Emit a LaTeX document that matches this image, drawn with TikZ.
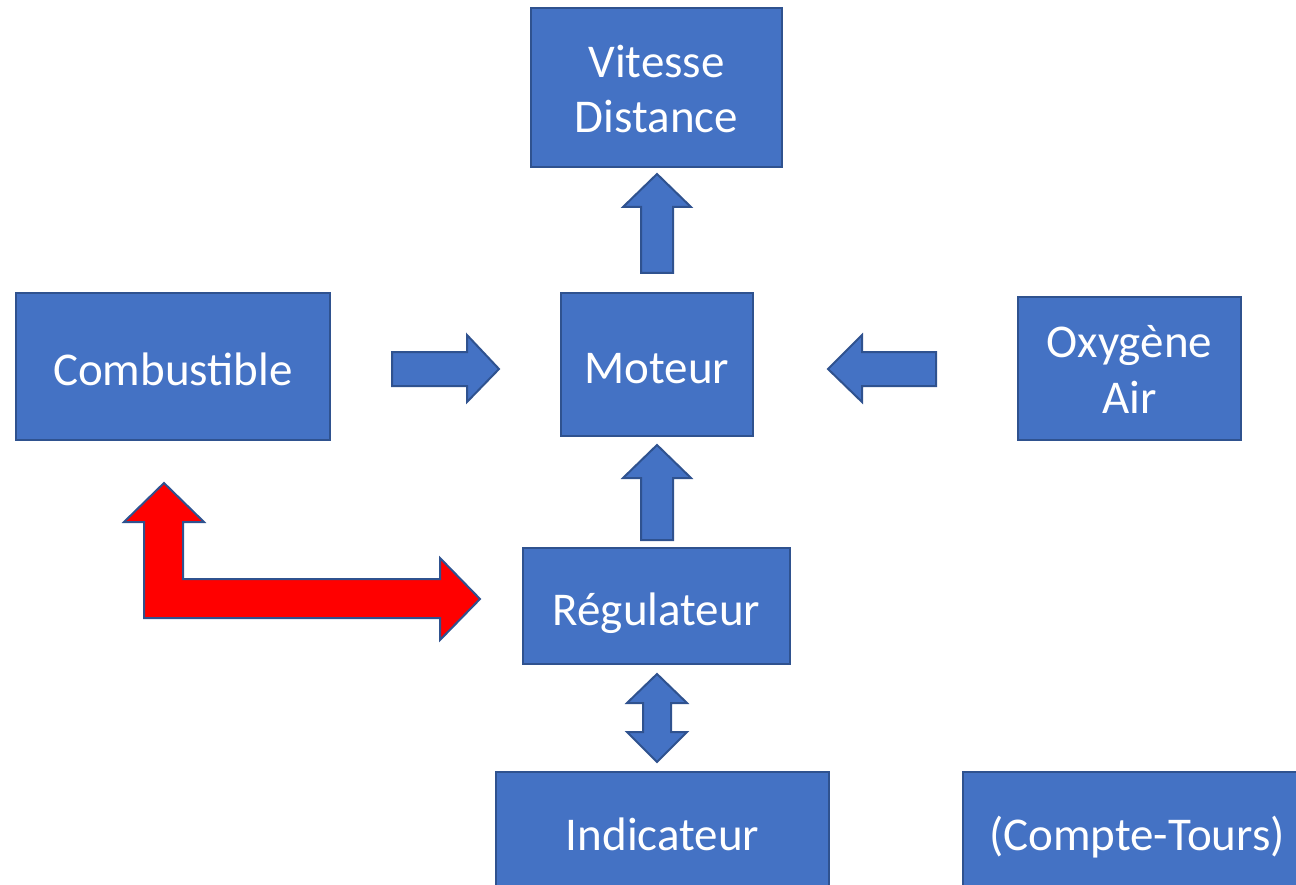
\documentclass[tikz,border=0pt]{standalone}
\usepackage{fontspec}
\setmainfont{Carlito}
\definecolor{boxfill}{HTML}{4472C4}
\definecolor{boxline}{HTML}{2F528F}
\begin{document}
\begin{tikzpicture}[x=1pt,y=-1pt,
  box/.style={draw=boxline,fill=boxfill,line width=2pt,inner sep=0pt},
  txt/.style={text=white,font=\fontsize{47}{57}\selectfont,inner sep=0pt,anchor=base},
  blk/.style={draw=boxline,fill=boxfill,line width=2pt,line join=miter},
  redblk/.style={draw=boxline,fill=red,line width=2pt,line join=miter}]
\useasboundingbox (0,0) rectangle (1296,885);
\clip (0,0) rectangle (1296,885);
% boxes
\node[box,minimum width=251pt,minimum height=159pt] (vit) at (656.5,87.5) {};
\node[box,minimum width=314pt,minimum height=147pt] (comb) at (173,366.5) {};
\node[box,minimum width=192pt,minimum height=143pt] (mot) at (657,364.5) {};
\node[box,minimum width=223pt,minimum height=143pt] (oxy) at (1129.5,368.5) {};
\node[box,minimum width=267pt,minimum height=116pt] (reg) at (656.5,606) {};
\node[box,minimum width=333pt,minimum height=126pt] (ind) at (662.5,835) {};
\node[box,minimum width=348pt,minimum height=126pt] (ct) at (1137,835) {};
% texts (anchored at their baselines)
\node[txt] (vitA) at (656.5,78) {Vitesse};
\node[txt] (vitB) at (656.5,133) {Distance};
\node[txt] (combT) at (173,385) {Combustible};
\node[txt] (motT) at (657,383) {Moteur};
\node[txt] (oxyA) at (1129.5,357) {Oxygène};
\node[txt] (oxyB) at (1129.5,413) {Air};
\node[txt] (regT) at (656.5,625) {Régulateur};
\node[txt] (indT) at (662.5,850) {Indicateur};
\node[txt] (ctT) at (1137,850) {(Compte-Tours)};
% up arrow Moteur -> Vitesse
\draw[blk] (641,273) -- (641,207) -- (623,207) -- (657,174) -- (691,207) -- (673,207) -- (673,273) -- cycle;
% up arrow Regulateur -> Moteur
\draw[blk] (641,540) -- (641,478) -- (623,478) -- (657,445) -- (691,478) -- (673,478) -- (673,540) -- cycle;
% right arrow Combustible -> Moteur
\draw[blk] (392,352) -- (467,352) -- (467,335) -- (499,369) -- (467,402) -- (467,386) -- (392,386) -- cycle;
% left arrow Oxygene -> Moteur
\draw[blk] (936,352) -- (862,352) -- (862,335) -- (828,369) -- (862,402) -- (862,386) -- (936,386) -- cycle;
% double arrow Regulateur <-> Indicateur
\draw[blk] (657,674) -- (687,703) -- (671,703) -- (671,732) -- (687,732) -- (657,762) -- (627,732) -- (643,732) -- (643,703) -- (627,703) -- cycle;
% red bent arrow
\draw[redblk] (144,618) -- (144,522) -- (124,522) -- (164,483) -- (204,522) -- (183,522) -- (183,579) -- (440,579) -- (440,558) -- (480,599) -- (440,640) -- (440,618) -- cycle;
\end{tikzpicture}
\end{document}
